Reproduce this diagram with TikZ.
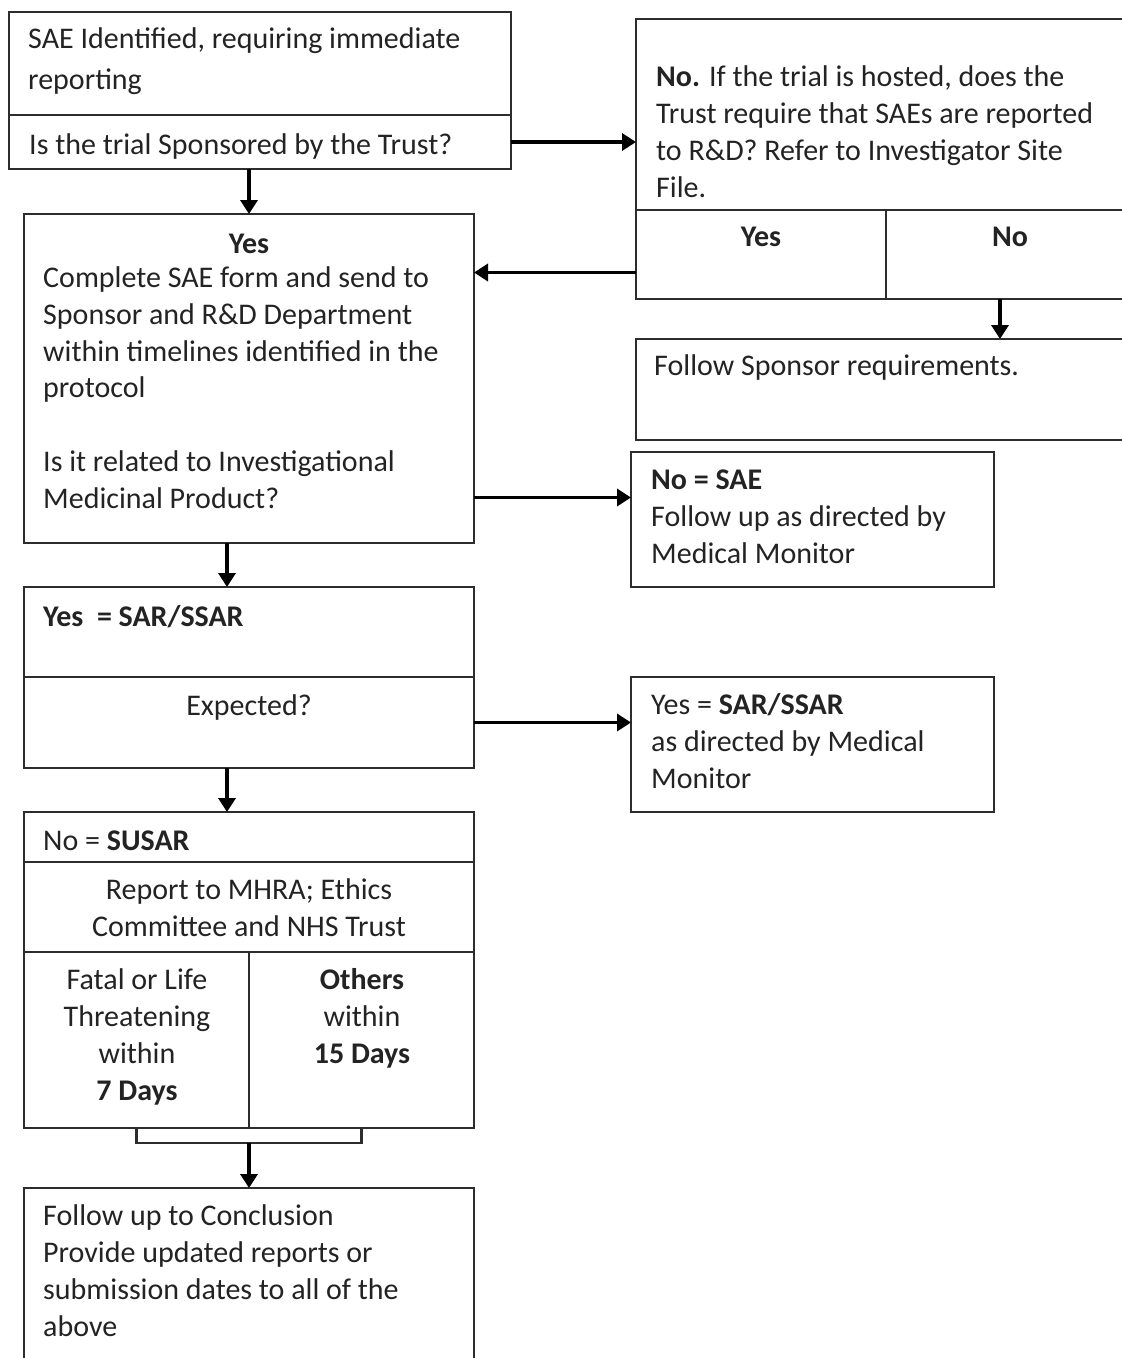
\documentclass[tikz,border=0pt]{standalone}
\usepackage{fontspec}
\setmainfont{Carlito}
\usetikzlibrary{arrows.meta,positioning}
\definecolor{boxline}{RGB}{45,45,45}
\definecolor{ink}{RGB}{35,35,35}

\begin{document}
\begin{tikzpicture}[
    x=1pt, y=-1pt,
    cell/.style={draw=boxline,line width=2.2pt,anchor=north west,inner sep=0pt,outer sep=0pt},
    txt/.style={anchor=base west,inner sep=0pt,align=left,text=ink,font=\fontsize{30}{36.7}\selectfont},
    ctxt/.style={txt,anchor=base,align=center},
    link/.style={line width=3.5pt,-{Triangle[length=14pt,width=17pt]}},
    bracket/.style={draw=boxline,line width=2.2pt}
]
\useasboundingbox (0,0) rectangle (1122,1358);

\node[cell,minimum width=502pt,minimum height=103pt] (saetop) at (9,12) {};
\node[cell,minimum width=502pt,minimum height=54pt] (saeq) at (9,115) {};
\node[cell,minimum width=498pt,minimum height=191pt] (hosted) at (636,19) {};
\node[cell,minimum width=250pt,minimum height=89pt] (hostyes) at (636,210) {};
\node[cell,minimum width=248pt,minimum height=89pt] (hostno) at (886,210) {};
\node[cell,minimum width=498pt,minimum height=101pt] (sponsreq) at (636,339) {};
\node[cell,minimum width=450pt,minimum height=329pt] (complete) at (24,214) {};
\node[cell,minimum width=363pt,minimum height=135pt] (nosae) at (631,452) {};
\node[cell,minimum width=450pt,minimum height=90pt] (sartop) at (24,587) {};
\node[cell,minimum width=450pt,minimum height=91pt] (expq) at (24,677) {};
\node[cell,minimum width=363pt,minimum height=135pt] (sarres) at (631,677) {};
\node[cell,minimum width=450pt,minimum height=50pt] (susar) at (24,812) {};
\node[cell,minimum width=450pt,minimum height=90pt] (report) at (24,862) {};
\node[cell,minimum width=225pt,minimum height=176pt] (fatal) at (24,952) {};
\node[cell,minimum width=225pt,minimum height=176pt] (others) at (249,952) {};
\node[cell,minimum width=450pt,minimum height=200pt] (conclude) at (24,1188) {};

% multi-line texts sit on the baseline of their last line
\node[txt,font=\fontsize{30}{41}\selectfont] (saetxt) at (28,89) {SAE Identified, requiring immediate\\reporting};
\node[txt] (saeqtxt) at (29,154) {Is the trial Sponsored by the Trust?};
\node[txt] (hostedtxt) at (656,197) {\textbf{No.} If the trial is hosted, does the\\Trust require that SAEs are reported\\to R\&D? Refer to Investigator Site\\File.};
\node[ctxt] (hostyestxt) at (761,246) {\textbf{Yes}};
\node[ctxt] (hostnotxt) at (1010,246) {\textbf{No}};
\node[txt] (sponsreqtxt) at (654,375) {Follow Sponsor requirements.};
\node[ctxt] (completehead) at (249,253) {\textbf{Yes}};
\node[txt] (completetxt) at (43,508) {Complete SAE form and send to\\Sponsor and R\&D Department\\within timelines identified in the\\protocol\\[36.7pt]Is it related to Investigational\\Medicinal Product?};
\node[txt] (nosaetxt) at (651,563) {\textbf{No = SAE}\\Follow up as directed by\\Medical Monitor};
\node[txt] (sartoptxt) at (43,626) {\textbf{Yes \ = SAR/SSAR}};
\node[ctxt] (expqtxt) at (249,715) {Expected?};
\node[txt] (sarrestxt) at (651,788) {Yes = \textbf{SAR/SSAR}\\as directed by Medical\\Monitor};
\node[txt] (susartxt) at (43,850) {No = \textbf{SUSAR}};
\node[ctxt] (reporttxt) at (249,936) {Report to MHRA; Ethics\\Committee and NHS Trust};
\node[ctxt] (fataltxt) at (137,1100) {Fatal or Life\\Threatening\\within\\\textbf{7 Days}};
\node[ctxt] (otherstxt) at (362,1063) {\textbf{Others}\\within\\\textbf{15 Days}};
\node[txt] (concludetxt) at (43,1336) {Follow up to Conclusion\\Provide updated reports or\\submission dates to all of the\\above};

\coordinate (byes) at ([yshift=-18pt]hostyes.west);
\coordinate (bno) at ([xshift=-10pt]hostno.south);
\coordinate (imp) at ([yshift=22pt]nosae.west);
\coordinate (cdown) at ([xshift=-22pt]complete.south);
\coordinate (fdown) at ([xshift=-22pt]expq.south);

\draw[link] (saeq.east) -- (saeq.east -| hosted.west);
\draw[link] (saeq.south -| complete.north) -- (complete.north);
\draw[link] (byes) -- (byes -| complete.east);
\draw[link] (bno) -- (bno |- sponsreq.north);
\draw[link] (imp -| complete.east) -- (imp);
\draw[link] (cdown) -- (cdown |- sartop.north);
\draw[link] (expq.east) -- (expq.east -| sarres.west);
\draw[link] (fdown) -- (fdown |- susar.north);
\draw[bracket] (fatal.south) -- ++(0,15) coordinate (join) -| (others.south);
\draw[link] (join -| conclude.north) -- (conclude.north);
\end{tikzpicture}
\end{document}
